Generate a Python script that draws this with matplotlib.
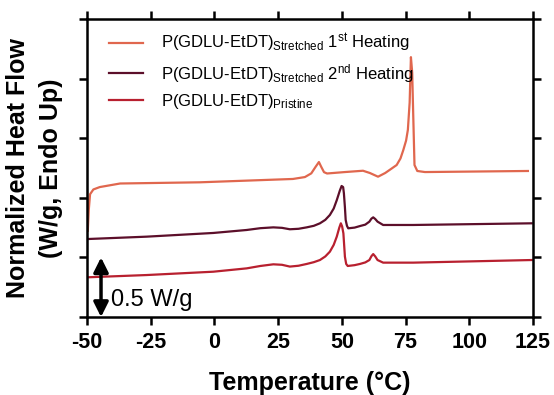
import matplotlib
matplotlib.use("Agg")
import matplotlib.pyplot as plt

plt.rcParams['font.family'] = ['Liberation Sans', 'DejaVu Sans']
plt.rcParams['mathtext.fontset'] = 'custom'
plt.rcParams['mathtext.rm'] = 'Liberation Sans'
plt.rcParams['mathtext.it'] = 'Liberation Sans'

# DSC traces (offset vertically, W/g)
t_first = [-50.0, -49.7, -49.3, -48.8, -47.5, -45.0, -37.0, -5.7, 30.8, 35.5, 38.0, 39.7,
           41.0, 41.9, 43.0, 44.2, 51.2, 58.3, 61.0, 64.2, 67.0, 69.5, 71.5, 73.0, 74.1, 75.2,
           75.9, 76.6, 77.1, 77.6, 78.0, 78.5, 79.6, 82.6, 123.0]
hf_first = [1.06, 0.72, 0.90, 1.03, 1.07, 1.09, 1.12, 1.13, 1.158, 1.174, 1.205, 1.26,
            1.30, 1.26, 1.215, 1.204, 1.216, 1.227, 1.208, 1.177, 1.208, 1.245, 1.275, 1.33, 1.40, 1.48,
            1.57, 1.80, 2.18, 2.05, 1.70, 1.275, 1.225, 1.216, 1.225]

t_second = [-49.9, -26.6, -0.45, 12.65, 18.0, 23.1, 26.5, 29.6, 33.0, 36.2, 39.0, 41.4,
            43.5, 45.3, 46.8, 48.0, 49.2, 49.9, 50.5, 50.8, 51.2, 51.5, 52.0, 52.5, 55.0,
            57.1, 59.2, 60.8, 61.6, 62.3, 63.1, 64.0, 66.2, 78.0, 124.5]
hf_second = [0.654, 0.674, 0.705, 0.730, 0.745, 0.752, 0.748, 0.736, 0.740, 0.752, 0.765, 0.786,
             0.815, 0.856, 0.91, 0.98, 1.06, 1.099, 1.09, 1.038, 0.92, 0.814, 0.765, 0.744, 0.750,
             0.763, 0.775, 0.800, 0.825, 0.836, 0.822, 0.800, 0.772, 0.772, 0.786]

t_pristine = [-49.9, -26.6, -0.45, 12.65, 18.0, 23.1, 26.5, 29.6, 33.0, 36.2, 39.0, 41.4,
              43.5, 45.3, 46.8, 48.0, 49.0, 49.6, 50.1, 50.6, 51.2, 51.7, 52.3, 55.0,
              57.1, 59.2, 60.8, 61.6, 62.3, 63.1, 64.0, 66.2, 78.0, 124.5]
hf_pristine = [0.333, 0.352, 0.380, 0.408, 0.428, 0.442, 0.438, 0.423, 0.430, 0.445, 0.460, 0.478,
               0.508, 0.548, 0.605, 0.674, 0.75, 0.786, 0.76, 0.702, 0.506, 0.445, 0.428, 0.435,
               0.445, 0.458, 0.478, 0.510, 0.528, 0.508, 0.478, 0.456, 0.456, 0.478]

labels = [r'P(GDLU-EtDT)$_{\mathregular{Stretched}}$ 1$^{\mathregular{st}}$ Heating',
          r'P(GDLU-EtDT)$_{\mathregular{Stretched}}$ 2$^{\mathregular{nd}}$ Heating',
          r'P(GDLU-EtDT)$_{\mathregular{Pristine}}$']
colors = ['#E0674E', '#5C0F2A', '#B8202F']

x_ticks = [-50, -25, 0, 25, 50, 75, 100, 125]
y_ticks = [0, 0.5, 1.0, 1.5, 2.0, 2.5]

fig = plt.figure(figsize=(5.54, 3.95), dpi=100)
ax = fig.add_axes([87 / 554, 1 - 317 / 395, 446 / 554, 298 / 395])

ax.plot(t_first, hf_first, color=colors[0], lw=1.6, label=labels[0])
ax.plot(t_second, hf_second, color=colors[1], lw=1.6, label=labels[1])
ax.plot(t_pristine, hf_pristine, color=colors[2], lw=1.6, label=labels[2])

ax.set_xlim(-50, 125)
ax.set_ylim(0, 2.5)
ax.set_xticks(x_ticks)
ax.set_xticklabels([str(v) for v in x_ticks], fontsize=15.5, fontweight='bold')
ax.set_yticks(y_ticks)
ax.set_yticklabels([])
ax.tick_params(direction='out', length=6, width=1.8, top=True, right=True, pad=5)
for s in ax.spines.values():
    s.set_linewidth(1.8)

ax.set_xlabel('Temperature (°C)', fontsize=18, fontweight='bold', labelpad=13)
ax.set_ylabel('Normalized Heat Flow\n(W/g, Endo Up)', fontsize=18, fontweight='bold',
              labelpad=6, linespacing=1.5)

# scale bar
ax.annotate('', xy=(-44.5, 0.0), xytext=(-44.5, 0.5),
            arrowprops=dict(arrowstyle='<|-|>', color='black', lw=2.5, mutation_scale=22,
                            shrinkA=0, shrinkB=0))
ax.text(-40.5, 0.14, '0.5 W/g', fontsize=17, va='center', ha='left')

ax.legend(loc='upper left', bbox_to_anchor=(0.035, 0.98), frameon=False, fontsize=12,
          handlelength=2.0, handletextpad=1.1, labelspacing=0.45, borderaxespad=0)

fig.savefig('out.png', dpi=100)
